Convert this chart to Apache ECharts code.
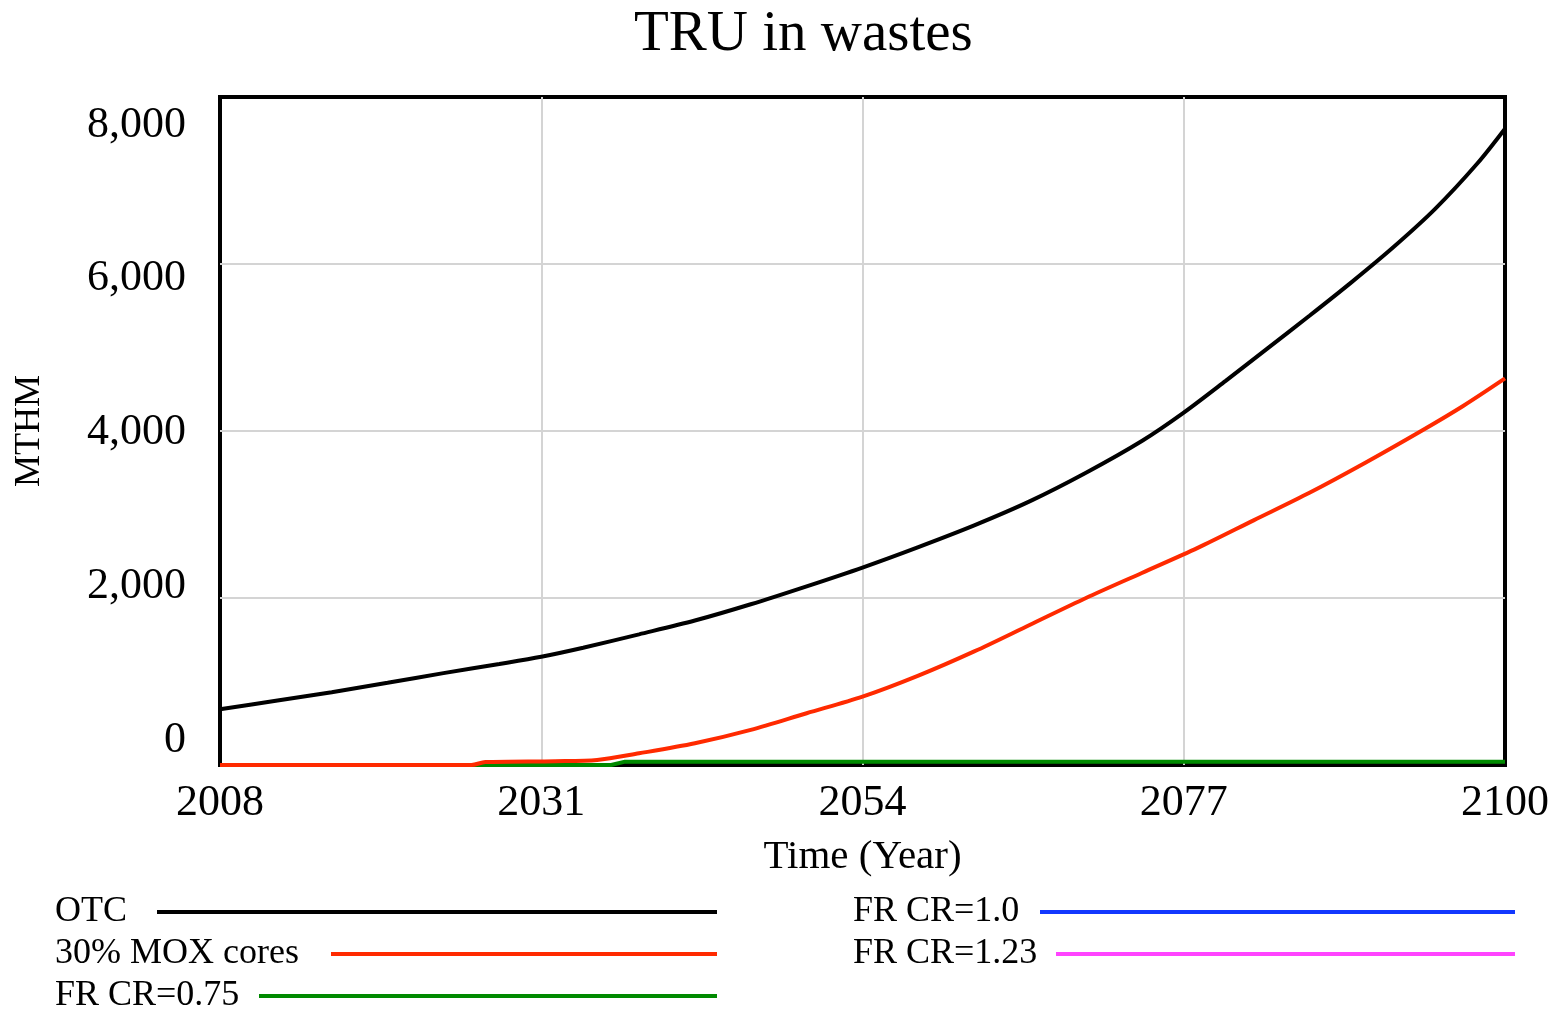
<!DOCTYPE html>
<html>
<head>
<meta charset="utf-8">
<title>TRU in wastes</title>
<script src="https://cdn.jsdelivr.net/npm/echarts@6/dist/echarts.min.js"></script>
<style>
html, body { margin: 0; padding: 0; background: #fff; }
#chart { width: 1558px; height: 1013px; }
</style>
</head>
<body>
<div id="chart"></div>
<script>
// values (MTHM)
var yTicks = [0, 2000, 4000, 6000, 8000];

var otcYears  = [2008, 2012, 2016, 2020, 2024, 2028, 2031, 2034, 2038, 2042, 2046, 2050, 2054, 2058, 2062, 2066, 2070, 2074, 2077, 2080, 2083, 2086, 2089, 2092, 2095, 2098, 2100];
var otcValues = [667, 770, 872, 985, 1100, 1210, 1297, 1405, 1565, 1730, 1925, 2140, 2365, 2610, 2870, 3160, 3500, 3880, 4220, 4600, 4990, 5380, 5780, 6200, 6660, 7200, 7620];

var moxYears  = [2008, 2026, 2027, 2032, 2035, 2038, 2042, 2046, 2050, 2054, 2058, 2062, 2066, 2070, 2074, 2078, 2082, 2086, 2090, 2094, 2097, 2100];
var moxValues = [0, 0, 35, 45, 60, 140, 260, 420, 620, 818, 1070, 1360, 1680, 2000, 2300, 2600, 2930, 3260, 3620, 4000, 4300, 4630];

var fr075Years  = [2008, 2036, 2037, 2100];
var fr075Values = [0, 0, 40, 40];

var fr100Years  = [2008, 2100];
var fr100Values = [0, 0];

var fr123Years  = [2008, 2100];
var fr123Values = [0, 0];

function pairs(xs, ys) {
    return xs.map(function (x, i) { return [x, ys[i]]; });
}

var FONT = 'Liberation Serif';

// one legend per row so each line keeps its own length
function legendRow(name, left, top, textW, lineW) {
    return {
        data: [name],
        left: left,
        top: top,
        orient: 'horizontal',
        align: 'right',
        padding: 0,
        icon: 'rect',
        itemWidth: lineW,
        itemHeight: 4,
        selectedMode: false,
        formatter: function (n) { return '{t|' + n + '}'; },
        textStyle: {
            color: '#000',
            rich: {
                t: { width: textW, align: 'left', fontFamily: FONT, fontSize: 36, color: '#000', lineHeight: 36 }
            }
        }
    };
}

function lineSeries(name, data, color, z, smooth) {
    return {
        name: name,
        type: 'line',
        data: data,
        showSymbol: false,
        smooth: smooth,
        z: z,
        itemStyle: { color: color },
        lineStyle: { color: color, width: 4 },
        emphasis: { disabled: true },
        animation: false
    };
}

var gridLine = { show: true, showMinLine: false, showMaxLine: false, lineStyle: { color: '#d4d4d4', width: 2 } };

var chart = echarts.init(document.getElementById('chart'));
chart.setOption({
    animation: false,
    title: {
        text: 'TRU in wastes',
        left: 629,
        top: 2,
        textStyle: { fontFamily: FONT, fontSize: 57, fontWeight: 'normal', color: '#000' }
    },
    grid: {
        left: 220,
        top: 97,
        width: 1285,
        height: 668,
        show: true,
        borderColor: '#000',
        borderWidth: 4,
        backgroundColor: 'transparent'
    },
    legend: [
        legendRow('OTC', 55, 894, 97, 560),
        legendRow('30% MOX cores', 55, 936, 271, 386),
        legendRow('FR CR=0.75', 55, 978, 199, 458),
        legendRow('FR CR=1.0', 853, 894, 182, 475),
        legendRow('FR CR=1.23', 853, 936, 198, 459)
    ],
    xAxis: {
        type: 'value',
        min: 2008,
        max: 2100,
        interval: 23,
        name: 'Time (Year)',
        nameLocation: 'middle',
        nameGap: 72,
        nameTextStyle: { fontFamily: FONT, fontSize: 41, color: '#000' },
        axisLine: { show: false },
        axisTick: { show: false },
        axisLabel: {
            fontFamily: FONT, fontSize: 44, color: '#000', margin: 16,
            formatter: function (v) { return String(v); }
        },
        splitLine: gridLine
    },
    yAxis: [
        {
            type: 'value',
            min: 0,
            max: 8000,
            interval: 2000,
            name: 'MTHM',
            nameLocation: 'middle',
            nameGap: 172,
            nameRotate: 90,
            nameTextStyle: { fontFamily: FONT, fontSize: 36, color: '#000' },
            axisLine: { show: false },
            axisTick: { show: false },
            axisLabel: { show: false },
            splitLine: gridLine
        },
        {
            // label-only axis: the tick labels sit a little off the grid lines
            type: 'value',
            position: 'left',
            min: -325,
            max: 8364,
            axisLine: { show: false },
            axisTick: { show: false },
            splitLine: { show: false },
            axisLabel: {
                customValues: yTicks,
                fontFamily: FONT,
                fontSize: 44,
                color: '#000',
                margin: 34,
                formatter: function (v) { return v.toLocaleString('en-US'); }
            }
        }
    ],
    series: [
        lineSeries('FR CR=1.23', pairs(fr123Years, fr123Values), '#ff44ff', -1, false),
        lineSeries('FR CR=1.0', pairs(fr100Years, fr100Values), '#1238ff', -1, false),
        lineSeries('FR CR=0.75', pairs(fr075Years, fr075Values), '#008a00', 3, false),
        lineSeries('30% MOX cores', pairs(moxYears, moxValues), '#ff2a00', 4, 0.3),
        lineSeries('OTC', pairs(otcYears, otcValues), '#000000', 5, 0.3)
    ]
});
</script>
</body>
</html>
